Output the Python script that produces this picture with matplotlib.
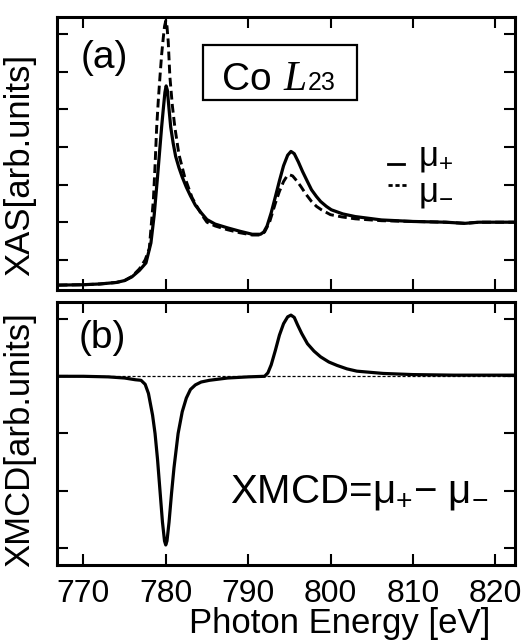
import matplotlib
matplotlib.use("Agg")
import matplotlib.pyplot as plt
from matplotlib.patches import Rectangle

plt.rcParams['font.family'] = ['Liberation Sans', 'DejaVu Sans']
plt.rcParams['mathtext.fontset'] = 'custom'
plt.rcParams['mathtext.rm'] = 'Liberation Sans'
plt.rcParams['mathtext.it'] = 'Liberation Sans:italic'

# photon energy [eV] and absorption for the two helicities (a)
e_plus = [767.0, 770.0, 772.0, 774.0, 775.0, 775.9, 776.8, 777.6, 778.2, 778.6,
          779.0, 779.3, 779.5, 779.7, 779.9, 780.05, 780.2, 780.4, 780.6, 780.9,
          781.2, 781.6, 782.0, 782.5, 783.0, 783.6, 784.3, 785.0, 786.0, 787.5,
          789.0, 790.5, 791.5, 791.9, 792.3, 792.8, 793.3, 793.8, 794.3, 794.8,
          795.2, 795.6, 796.1, 796.6, 797.2, 797.7, 798.3, 798.8, 799.5, 800.1,
          801.5, 803.0, 806.2, 810.0, 814.0, 816.3, 818.0, 822.4]
mu_plus = [0.33, 0.34, 0.36, 0.40, 0.45, 0.55, 0.72, 0.92, 1.45, 2.20,
           3.20, 4.00, 4.53, 5.00, 5.45, 5.62, 5.50, 5.00, 4.53, 4.10,
           3.75, 3.45, 3.20, 2.93, 2.70, 2.45, 2.25, 2.07, 1.95, 1.85,
           1.76, 1.68, 1.68, 1.74, 1.90, 2.25, 2.67, 3.10, 3.50, 3.78,
           3.88, 3.82, 3.60, 3.35, 3.08, 2.86, 2.68, 2.55, 2.42, 2.33,
           2.22, 2.15, 2.06, 2.02, 2.00, 1.97, 2.00, 2.00]

e_minus = [767.0, 770.0, 772.0, 774.0, 775.0, 775.9, 776.8, 777.5, 778.0, 778.5,
           778.7, 778.9, 779.1, 779.3, 779.5, 779.7, 779.85, 780.0, 780.15, 780.3,
           780.5, 780.8, 781.1, 781.6, 782.3, 783.2, 784.3, 785.0, 786.0, 787.5,
           789.0, 790.5, 791.5, 792.0, 792.6, 793.3, 793.8, 794.3, 794.7, 795.0,
           795.4, 795.9, 796.4, 797.0, 797.7, 798.3, 798.9, 800.0, 801.4, 803.0,
           806.2, 810.0, 814.0, 816.3, 818.0, 822.4]
mu_minus = [0.33, 0.34, 0.36, 0.40, 0.45, 0.56, 0.76, 1.00, 1.30, 2.60,
            3.50, 4.53, 5.25, 5.87, 6.45, 6.90, 7.20, 7.35, 7.20, 6.80,
            5.87, 5.10, 4.53, 3.80, 3.20, 2.65, 2.22, 2.00, 1.90, 1.80,
            1.72, 1.66, 1.66, 1.74, 2.00, 2.50, 2.82, 3.08, 3.22, 3.26,
            3.23, 3.10, 2.95, 2.75, 2.55, 2.42, 2.33, 2.20, 2.14, 2.09,
            2.04, 2.02, 2.00, 1.97, 2.00, 2.00]

# dichroic difference mu+ - mu- (b)
e_xmcd = [767.0, 770.0, 773.0, 775.0, 776.3, 777.0, 777.5, 777.9, 778.4, 778.7,
          779.0, 779.3, 779.6, 779.85, 780.0, 780.15, 780.4, 780.7, 781.0, 781.5,
          782.0, 782.5, 783.0, 783.6, 784.3, 785.3, 787.5, 790.0, 792.0, 792.4,
          792.8, 793.3, 793.8, 794.3, 794.8, 795.2, 795.6, 796.0, 796.5, 797.2,
          798.0, 798.8, 799.8, 800.8, 802.0, 803.2, 806.4, 810.0, 815.0, 822.4]
xmcd = [0.00, 0.00, -0.01, -0.03, -0.06, -0.07, -0.14, -0.30, -0.68, -1.00,
        -1.45, -2.00, -2.55, -2.88, -2.95, -2.88, -2.55, -2.05, -1.60, -1.00,
        -0.62, -0.38, -0.23, -0.15, -0.10, -0.07, -0.03, -0.01, 0.00, 0.06,
        0.20, 0.45, 0.72, 0.92, 1.04, 1.07, 1.03, 0.90, 0.75, 0.57,
        0.44, 0.34, 0.25, 0.19, 0.13, 0.09, 0.05, 0.03, 0.02, 0.02]

x_ticks = [770, 780, 790, 800, 810, 820]
xas_yticks = [1, 2, 3, 4, 5, 6, 7]
xmcd_yticks = [-3, -2, -1, 0, 1]

fig = plt.figure(figsize=(5.25, 6.44), dpi=100)
ax1 = fig.add_axes([0.1086, 0.5497, 0.8724, 0.4239])
ax2 = fig.add_axes([0.1086, 0.1227, 0.8724, 0.4084])

dash = (0, (3, 1.5))
for ax in (ax1, ax2):
    ax.set_xlim(766.8, 822.4)
    ax.set_xticks(x_ticks)
    ax.tick_params(direction='in', top=True, right=True, length=8, width=1.5,
                   labelsize=23, pad=10)
    for s in ax.spines.values():
        s.set_linewidth(2.2)

# (a) XAS
ax1.plot(e_plus, mu_plus, color='black', lw=2.3)
ax1.plot(e_minus, mu_minus, color='black', lw=2.1, linestyle=dash)
ax1.set_ylim(0.2, 7.45)
ax1.set_yticks(xas_yticks)
ax1.tick_params(labelleft=False, labelbottom=False)
ax1.set_ylabel('XAS[arb.units]', fontsize=25)
ax1.yaxis.set_label_coords(-0.046, 0.458)
ax1.text(0.052, 0.85, '(a)', transform=ax1.transAxes, fontsize=28, va='center')

ax1.add_patch(Rectangle((0.319, 0.696), 0.336, 0.201, transform=ax1.transAxes,
                        fill=False, lw=1.6, color='black'))
ax1.text(0.360, 0.733, 'Co', transform=ax1.transAxes, fontsize=28, va='baseline')
ax1.text(0.495, 0.733, 'L', transform=ax1.transAxes, fontsize=30, va='baseline',
         family='Liberation Serif', style='italic')
ax1.text(0.548, 0.733, '23', transform=ax1.transAxes, fontsize=18, va='baseline')

# legend drawn by hand next to the curves
ax1.plot([0.723, 0.758], [0.462, 0.462], transform=ax1.transAxes, color='black', lw=2.0)
ax1.plot([0.723, 0.765], [0.385, 0.385], transform=ax1.transAxes, color='black', lw=2.0,
         linestyle=(0, (1.5, 1.0)))
ax1.text(0.788, 0.455, r'$\mathrm{μ}_{+}$', transform=ax1.transAxes, fontsize=25, va='baseline')
ax1.text(0.788, 0.325, r'$\mathrm{μ}_{-}$', transform=ax1.transAxes, fontsize=25, va='baseline')

# (b) XMCD
ax2.axhline(0, color='black', lw=0.9, linestyle=(0, (2.5, 1.5)))
ax2.plot(e_xmcd, xmcd, color='black', lw=2.3)
ax2.set_ylim(-3.3, 1.3)
ax2.set_yticks(xmcd_yticks)
ax2.tick_params(labelleft=False)
ax2.set_ylabel('XMCD[arb.units]', fontsize=25)
ax2.yaxis.set_label_coords(-0.046, 0.475)
ax2.set_xlabel('Photon Energy [eV]', fontsize=25)
ax2.xaxis.set_label_coords(0.618, -0.16)
ax2.text(0.048, 0.863, '(b)', transform=ax2.transAxes, fontsize=28, va='center')
ax2.text(0.378, 0.236, r'XMCD=$\mathrm{μ}_{+}$$-$ $\mathrm{μ}_{-}$', transform=ax2.transAxes,
         fontsize=29, va='baseline')

fig.savefig('out.png', dpi=100)
